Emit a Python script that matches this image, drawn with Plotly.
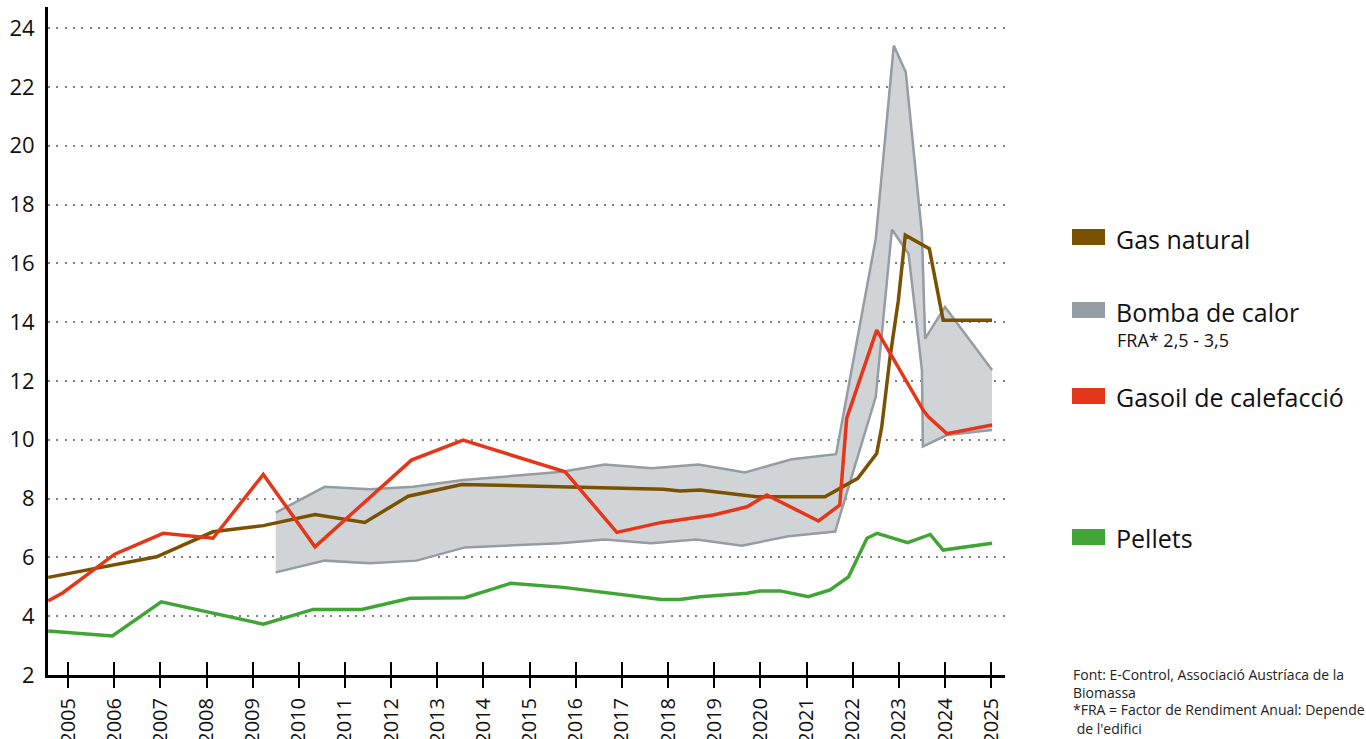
import plotly.graph_objects as go

# ---------------- data ----------------
years = list(range(2005, 2026))
year_labels = [str(y) for y in years]
y_ticks = list(range(2, 25, 2))

gas_x = [2004.57, 2005.98, 2006.92, 2008.14, 2009.23, 2010.35, 2011.43, 2012.37, 2013.53,
         2017.90, 2018.26, 2018.69, 2019.41, 2019.92, 2021.40, 2022.11, 2022.52, 2022.63,
         2022.81, 2022.99, 2023.14, 2023.66, 2023.96, 2025.02]
gas_y = [5.32, 5.74, 6.02, 6.87, 7.08, 7.46, 7.19, 8.08, 8.48,
         8.32, 8.26, 8.29, 8.17, 8.06, 8.06, 8.69, 9.53, 10.44,
         12.82, 14.75, 16.96, 16.50, 14.07, 14.07]

oil_x = [2004.57, 2004.89, 2006.01, 2007.06, 2008.14, 2009.23, 2010.35, 2012.44, 2013.56,
         2015.77, 2016.89, 2017.86, 2018.98, 2019.71, 2020.14, 2021.26, 2021.72, 2021.87,
         2022.52, 2023.53, 2023.64, 2024.04, 2025.02]
oil_y = [4.52, 4.80, 6.11, 6.82, 6.65, 8.82, 6.36, 9.31, 9.99,
         8.91, 6.85, 7.19, 7.44, 7.72, 8.12, 7.24, 7.78, 10.73,
         13.73, 11.00, 10.78, 10.21, 10.50]

pel_x = [2004.57, 2005.96, 2007.02, 2009.23, 2010.31, 2011.36, 2012.41, 2013.60, 2014.59,
         2015.73, 2017.86, 2018.26, 2018.69, 2019.71, 2019.99, 2020.43, 2021.04, 2021.51,
         2021.91, 2022.31, 2022.53, 2023.19, 2023.68, 2023.96, 2025.02]
pel_y = [3.50, 3.33, 4.49, 3.73, 4.23, 4.23, 4.61, 4.63, 5.12,
         4.98, 4.57, 4.57, 4.66, 4.78, 4.86, 4.86, 4.66, 4.89,
         5.34, 6.65, 6.82, 6.50, 6.78, 6.25, 6.48]

hp_high_x = [2009.50, 2010.56, 2011.54, 2012.48, 2013.56, 2014.58, 2015.70, 2016.63, 2017.65,
             2018.66, 2019.67, 2020.68, 2021.64, 2022.50, 2022.89, 2023.15, 2023.50, 2023.57,
             2024.00, 2025.02]
hp_high_y = [7.52, 8.40, 8.32, 8.40, 8.63, 8.77, 8.91, 9.16, 9.03,
             9.16, 8.89, 9.34, 9.51, 16.84, 23.41, 22.51, 17.01, 13.44,
             14.52, 12.37]

hp_low_x = [2009.50, 2010.56, 2011.54, 2012.55, 2013.60, 2014.58, 2015.66, 2016.63, 2017.63,
            2018.62, 2019.60, 2020.61, 2021.62, 2022.50, 2022.85, 2023.21, 2023.32, 2023.50,
            2023.52, 2024.04, 2025.02]
hp_low_y = [5.49, 5.89, 5.80, 5.89, 6.34, 6.40, 6.48, 6.61, 6.48,
            6.61, 6.40, 6.72, 6.88, 11.46, 17.15, 16.33, 14.75, 12.37,
            9.77, 10.16, 10.33]

legend_names = ["Gas natural", "Bomba de calor", "Gasoil de calefacció", "Pellets"]
legend_sub = "FRA* 2,5 - 3,5"
footnote = ["Font: E-Control, Associació Austríaca de la", "Biomassa",
            "*FRA = Factor de Rendiment Anual: Depende", " de l'edifici"]

# ---------------- style ----------------
C_GAS = "#7A5100"
C_HP_LINE = "#959CA3"
C_HP_FILL = "#D1D4D7"
C_OIL = "#E63619"
C_PEL = "#40A536"
FONT = "Open Sans"

W, H = 1366, 739
ML, MR, MT, MB = 48, 361, 7, 64
PW, PH = W - ML - MR, H - MT - MB
X_RANGE = [2004.566, 2025.30]


def px_x(px):
    return (px - ML) / PW


def px_y(py):
    return (H - MB - py) / PH


fig = go.Figure()

# heat pump band
fig.add_trace(go.Scatter(
    x=hp_high_x + hp_low_x[::-1], y=hp_high_y + hp_low_y[::-1],
    fill="toself", fillcolor=C_HP_FILL, mode="lines", line=dict(width=0),
    hoverinfo="skip", showlegend=False))
fig.add_trace(go.Scatter(x=hp_high_x, y=hp_high_y, mode="lines",
                         line=dict(color=C_HP_LINE, width=2.5), showlegend=False))
fig.add_trace(go.Scatter(x=hp_low_x, y=hp_low_y, mode="lines",
                         line=dict(color=C_HP_LINE, width=2.5), showlegend=False))

fig.add_trace(go.Scatter(x=gas_x, y=gas_y, mode="lines",
                         line=dict(color=C_GAS, width=3.5), name=legend_names[0], showlegend=False))
fig.add_trace(go.Scatter(x=oil_x, y=oil_y, mode="lines",
                         line=dict(color=C_OIL, width=3.5), name=legend_names[2], showlegend=False))
fig.add_trace(go.Scatter(x=pel_x, y=pel_y, mode="lines",
                         line=dict(color=C_PEL, width=3.5), name=legend_names[3], showlegend=False))

# custom legend
shapes = []
annotations = []
sw_centers = [237, 310, 396, 537]
txt_centers = [239, 312, 397, 538]
sw_colors = [C_GAS, C_HP_LINE, C_OIL, C_PEL]
for name, sc, tc, col in zip(legend_names, sw_centers, txt_centers, sw_colors):
    shapes.append(dict(type="rect", xref="paper", yref="paper",
                       x0=px_x(1072), x1=px_x(1105), y0=px_y(sc + 8), y1=px_y(sc - 8),
                       fillcolor=col, line=dict(width=0)))
    annotations.append(dict(text=name, xref="paper", yref="paper", x=px_x(1114), y=px_y(tc),
                            xanchor="left", yanchor="middle", showarrow=False,
                            font=dict(family=FONT, size=25, color="#111")))
annotations.append(dict(text=legend_sub, xref="paper", yref="paper", x=px_x(1115), y=px_y(340),
                        xanchor="left", yanchor="middle", showarrow=False,
                        font=dict(family=FONT, size=18, color="#111")))
for i, line in enumerate(footnote):
    annotations.append(dict(text=line.replace(" ", "&nbsp;", 1) if line.startswith(" ") else line,
                            xref="paper", yref="paper", x=px_x(1071), y=px_y(674 + 18 * i),
                            xanchor="left", yanchor="middle", showarrow=False,
                            font=dict(family=FONT, size=14, color="#222")))

fig.update_layout(
    width=W, height=H,
    margin=dict(l=ML, r=MR, t=MT, b=MB, autoexpand=False),
    plot_bgcolor="white", paper_bgcolor="white",
    showlegend=False,
    shapes=shapes, annotations=annotations,
    xaxis=dict(range=X_RANGE, tickvals=years, ticktext=year_labels, automargin=False,
               tickangle=-90, ticks="outside", ticklen=10, tickwidth=1.5, tickcolor="#000",
               showline=True, linecolor="#000", linewidth=3, showgrid=False, zeroline=False,
               tickfont=dict(family=FONT, size=20, color="#111"), ticklabelstandoff=2),
    xaxis2=dict(range=X_RANGE, overlaying="x", side="bottom", anchor="y",
                tickvals=years, showticklabels=False, ticks="inside", ticklen=13,
                tickwidth=1.5, tickcolor="#000", showline=False, showgrid=False,
                zeroline=False),
    yaxis=dict(range=[2, 24.72], tickvals=y_ticks, ticks="", showline=True, automargin=False,
               linecolor="#000", linewidth=3, showgrid=True, gridcolor="#808080",
               gridwidth=2, griddash="2px,6.3px", zeroline=False,
               tickfont=dict(family=FONT, size=22, color="#111"), ticklabelstandoff=6),
)

# invisible trace to activate the second x axis (tick marks inside the plot)
fig.add_trace(go.Scatter(x=[years[0]], y=[y_ticks[0]], xaxis="x2", mode="markers",
                         marker=dict(opacity=0), hoverinfo="skip", showlegend=False))

fig.write_html("out.html", config={"displayModeBar": False},
               post_script="document.body.style.margin='0';document.body.style.overflow='hidden';")
